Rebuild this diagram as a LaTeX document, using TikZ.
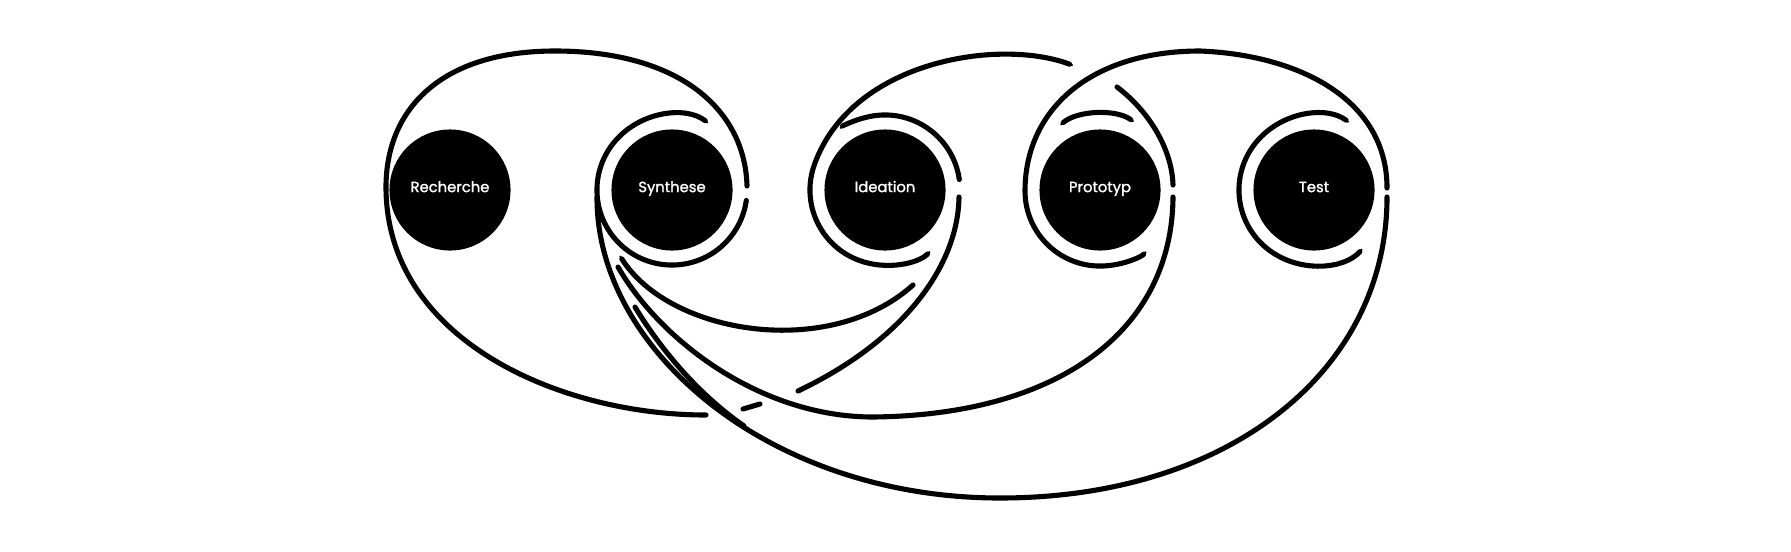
\documentclass[tikz,border=0pt]{standalone}
\usepackage{fontspec}
\newfontfamily\stagefont{Poppins}[FakeBold=1.4]
\usetikzlibrary{calc,arrows.meta}
\tikzset{
  stage/.style={circle, fill=black, minimum size=1.21cm, inner sep=0pt,
    text=white, text height=3pt, text depth=1.8pt,
    font=\stagefont\fontsize{4.2}{5}\selectfont},
  swirl/.style={line width=1.45pt, line cap=round, line join=round},
  taper/.tip={Triangle[length=5pt, width=1.45pt]}
}
\begin{document}
\begin{tikzpicture}[x=0.01cm, y=-0.01cm]
\useasboundingbox (0,0) rectangle (1791,551);
% the five stages
\foreach \x/\n/\t in {450/rech/Recherche, 672/syn/Synthese, 885/idea/Ideation, 1100/proto/Prototyp, 1314/test/Test}
  \node[stage] (\n) at (\x,190) {\t};
% Synthese ring and the Recherche loop
\draw[swirl, taper-] ($(syn)+(52:0.75cm)$) arc (52:352:0.75cm);
\draw[swirl] (747,186) .. controls (745,110) and (680,51) .. (555,51)
  .. controls (440,51) and (386,110) .. (386,187)
  .. controls (386,340) and (560,415) .. (706,415);
\draw[swirl] (743,409) -- (760,404);
\draw[swirl] (798,391) .. controls (905,340) and (958,265) .. (959,197);
\draw[swirl, -taper] ($(idea)+(8:0.75cm)$) arc (8:136:0.75cm);
% smile under Synthese
\draw[swirl, taper-] (613,245) .. controls (670,335) and (830,360) .. (913,285);
% Ideation loop
\draw[swirl, taper-taper] (1085,70) .. controls (1000,38) and (852,60) .. (814.5,164.3) arc (160:316:0.75cm);
\draw[swirl] (1117,87) .. controls (1150,112) and (1172,150) .. (1173,185);
\draw[swirl] (1173,197) .. controls (1172,330) and (1060,415) .. (873,417)
  .. controls (760,417) and (660,340) .. (618,267);
% Prototyp ring
\draw[swirl, taper-taper] ($(proto)+(131:0.75cm)$) arc (131:54:0.75cm);
% Test loop
\draw[swirl, -taper] (1387,188) .. controls (1387,100) and (1300,55) .. (1200,51)
  .. controls (1090,51) and (1025,110) .. (1025,191) arc (180:317:0.75cm);
\draw[swirl] (597,197) .. controls (596,350) and (770,498) .. (1000,498)
  .. controls (1230,498) and (1387,370) .. (1387,197);
\draw[swirl] (635,307) .. controls (658,345) and (695,392) .. (744,426);
% Test ring
\draw[swirl, taper-taper] ($(test)+(53:0.75cm)$) arc (53:319:0.75cm);
\end{tikzpicture}
\end{document}
